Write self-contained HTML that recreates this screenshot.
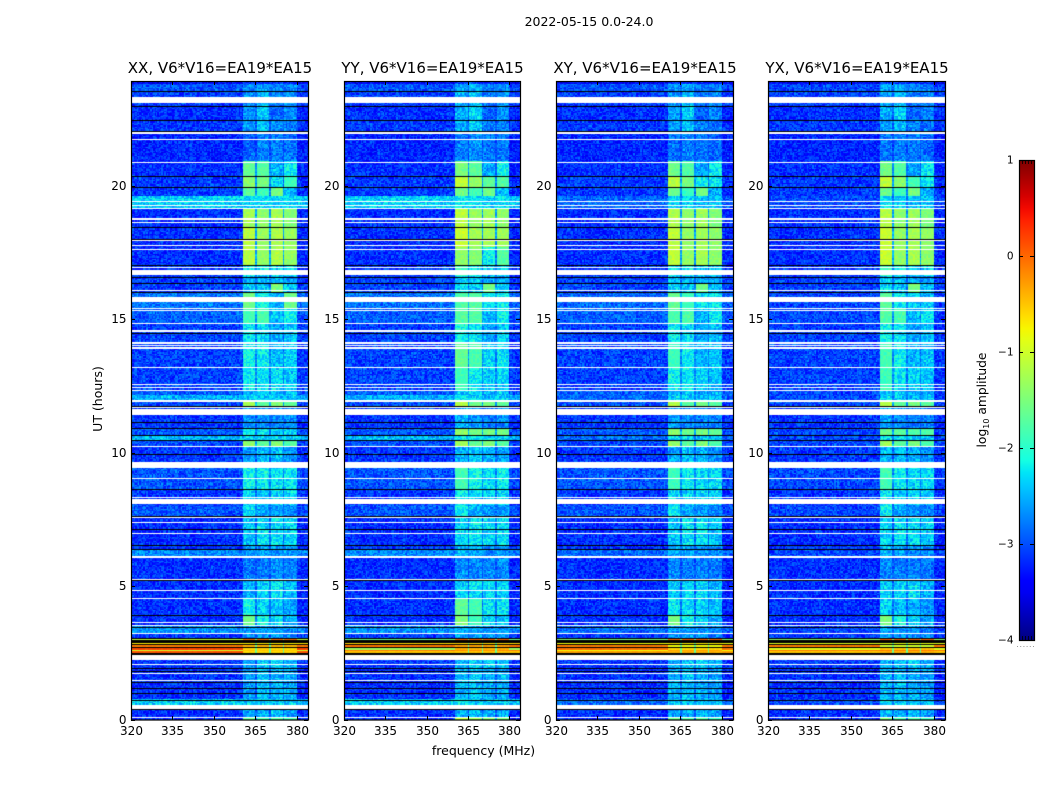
<!DOCTYPE html>
<html lang="en">
<head>
<meta charset="utf-8">
<title>2022-05-15 0.0-24.0</title>
<style>
html,body{margin:0;padding:0;background:#fff;}
#stage{position:relative;width:1050px;height:800px;overflow:hidden;background:#fff;}
canvas{position:absolute;display:block;}
svg{position:absolute;left:0;top:0;}
text{font-family:"DejaVu Sans","Liberation Sans",sans-serif;fill:#000;}
</style>
</head>
<body>
<div id="stage">
<svg id="chart" width="1050" height="800" viewBox="0 0 1050 800">
  <defs><linearGradient id="jetGradient" x1="0" y1="1" x2="0" y2="0"></linearGradient></defs>
  <text x="589" y="26" text-anchor="middle" font-size="12.5">2022-05-15 0.0-24.0</text>
  <text x="483.5" y="755" text-anchor="middle" font-size="12.5">frequency (MHz)</text>
  <text transform="translate(102,399) rotate(-90)" text-anchor="middle" font-size="12.5">UT (hours)</text>
  <text transform="translate(986,400) rotate(-90)" text-anchor="middle" font-size="12.3">log<tspan font-size="8" dy="3">10</tspan><tspan dy="-3"> amplitude</tspan></text>
</svg>
</div>
<script>
// ---- chart values ----
const panelTitles = ["XX, V6*V16=EA19*EA15", "YY, V6*V16=EA19*EA15", "XY, V6*V16=EA19*EA15", "YX, V6*V16=EA19*EA15"];
const freqTicks = [320, 335, 350, 365, 380];
const hourTicks = [0, 5, 10, 15, 20];
const colorTicks = [1, 0, -1, -2, -3, -4];

// sub-bands with interference, MHz
const bandStarts = [360.5, 365.5, 370.5, 375.5];
const bandEnds = [365, 370, 375, 380];

// start hour, end hour, background level, four sub-band levels (log10 amplitude)
const timeSegments = [
  [23.95,23.8,-3.3,-3.0,-2.9,-3.0,-3.0],
  [23.8,23.55,-2.85,-2.5,-2.35,-2.5,-2.55],
  [23.55,22.98,-2.95,-2.5,-2.3,-2.55,-2.5],
  [22.98,22.45,-3.05,-2.45,-2.2,-2.65,-2.5],
  [22.45,22.0,-3.0,-2.5,-2.25,-2.5,-2.6],
  [22.0,20.9,-3.1,-2.7,-2.55,-2.55,-2.65],
  [20.9,20.37,-3.05,-1.65,-1.75,-2.3,-2.0],
  [20.37,19.94,-3.0,-1.4,-1.55,-2.1,-1.9],
  [19.94,19.6,-3.0,-1.7,-1.9,-1.5,-2.3],
  [19.6,19.16,-2.25,-2.15,-2.15,-2.15,-2.15],
  [19.16,18.45,-3.05,-1.25,-1.4,-1.25,-1.45],
  [18.45,17.02,-3.05,-1.15,-1.35,-1.2,-1.35],
  [17.02,16.58,-3.0,-2.0,-2.0,-2.1,-2.1],
  [16.58,16.33,-2.95,-2.3,-2.3,-2.3,-2.4],
  [16.33,16.0,-2.95,-2.2,-2.25,-1.5,-2.2],
  [16.0,15.42,-2.7,-1.55,-1.95,-2.3,-1.6],
  [15.42,14.84,-2.8,-1.85,-1.8,-2.25,-2.0],
  [14.84,14.11,-2.95,-2.05,-2.1,-2.35,-2.2],
  [14.11,13.2,-2.95,-1.95,-2.0,-2.25,-2.2],
  [13.2,12.34,-2.95,-2.0,-2.05,-2.1,-2.2],
  [12.34,12.15,-2.8,-2.3,-2.2,-2.3,-2.3],
  [12.15,11.94,-2.4,-2.2,-2.2,-2.2,-2.2],
  [11.94,11.74,-2.9,-1.25,-1.7,-1.5,-1.7],
  [11.74,11.15,-3.0,-2.45,-2.5,-2.5,-2.5],
  [11.15,10.92,-3.0,-2.5,-2.5,-2.55,-2.55],
  [10.92,10.66,-2.85,-1.95,-2.1,-2.15,-2.15],
  [10.66,10.47,-2.35,-2.15,-2.1,-2.1,-2.2],
  [10.47,10.25,-2.9,-1.4,-1.7,-1.45,-1.75],
  [10.25,9.64,-3.0,-2.4,-2.25,-2.25,-2.45],
  [9.64,8.62,-2.85,-1.95,-2.0,-2.05,-2.05],
  [8.62,8.07,-3.0,-2.15,-2.2,-2.1,-2.15],
  [8.07,7.6,-2.85,-2.1,-2.35,-2.4,-2.5],
  [7.6,6.54,-3.05,-2.25,-2.1,-2.05,-2.15],
  [6.54,6.39,-3.0,-2.4,-2.4,-2.4,-2.4],
  [6.39,6.1,-2.6,-2.4,-2.4,-2.45,-2.45],
  [6.1,5.22,-3.05,-2.6,-2.6,-2.5,-2.55],
  [5.22,4.55,-3.05,-2.3,-2.15,-2.05,-2.25],
  [4.55,3.91,-3.05,-1.95,-2.15,-2.25,-2.4],
  [3.91,3.48,-3.05,-1.6,-1.95,-2.05,-2.3],
  [3.48,3.24,-2.55,-2.45,-2.4,-2.4,-2.5],
  [3.24,3.05,-3.0,-2.5,-2.4,-2.4,-2.5],
  [2.45,1.93,-3.0,-2.4,-2.2,-2.1,-2.3],
  [1.93,0.73,-3.05,-2.4,-2.25,-2.3,-2.35],
  [0.73,0.56,-2.25,-2.2,-2.2,-2.2,-2.2],
  [0.56,0.08,-3.05,-2.4,-2.35,-2.25,-2.4],
  [0.08,0,-3.05,-1.6,-1.8,-1.7,-1.8]
];

// per-panel replacements: panel index, start hour, end hour, four sub-band levels
const bandOverrides = [
  [1,20.37,19.94,-1.2,-1.4,-1.65,-1.8],
  [2,20.37,19.94,-1.2,-1.5,-1.9,-2.0],
  [3,20.37,19.94,-1.2,-1.4,-1.8,-2.0],
  [1,17.7,17.02,-1.5,-1.5,-1.9,-1.8],
  [1,16.0,15.42,-1.9,-1.8,-2.0,-2.0],
  [2,16.0,15.42,-1.7,-1.9,-2.0,-2.0],
  [3,16.0,15.42,-1.8,-2.0,-2.1,-2.2],
  [1,14.11,13.2,-1.75,-1.85,-2.1,-2.1],
  [1,10.92,10.66,-1.5,-1.6,-1.5,-1.6],
  [2,10.92,10.66,-1.5,-1.6,-1.5,-1.6],
  [3,10.92,10.66,-1.7,-1.7,-1.7,-1.7],
  [1,4.55,3.91,-1.8,-1.9,-2.0,-2.1],
  [2,4.55,3.91,-2.1,-2.1,-2.1,-2.2],
  [3,4.55,3.91,-2.25,-2.25,-2.3,-2.4],
  [1,0.08,0,-1.2,-1.3,-1.4,-1.5]
];

// bright calibrator stripes near 2.5-3 h
const stripeStarts = [3.03, 2.87, 2.78, 2.68, 2.60, 2.55];
const stripeEnds = [2.97, 2.83, 2.72, 2.60, 2.55, 2.48];
const stripeBaseXX = [-1.1,-0.7,-0.1,0.2,-1.0,0.1];
const stripeBandXX = [0,-0.7,-0.4,-0.6,-0.5,-0.6];
const stripeBaseYY = [-1.6,-0.6,-0.05,-1.3,-0.1,-0.5];
const stripeBandYY = [0.05,-0.6,-0.3,-0.4,-0.2,-0.5];
const stripeBaseXY = [-1.5,-0.8,-0.1,-0.05,-0.8,-0.3];
const stripeBandXY = [0.05,-0.7,-0.8,-0.6,-0.3,-0.4];
const stripeBaseYX = [-1.4,-0.9,-0.1,-0.9,-0.1,-0.5];
const stripeBandYX = [0.05,-0.85,-1.0,-0.5,-0.1,-0.4];
const stripeBackdropStart = 3.05;
const stripeBackdropEnd = 2.42;

// flagged (blank) hour ranges, shown white
const whiteStarts = [23.33,21.99,21.75,20.89,19.43,19.28,19.17,18.77,18.65,17.97,17.78,17.63,16.96,16.84,16.10,15.82,15.43,15.35,14.85,14.57,14.12,14.04,13.94,13.21,12.56,12.46,12.35,11.95,11.71,11.63,10.26,9.64,9.04,8.34,8.26,7.61,7.41,7.00,6.11,5.28,4.86,4.56,3.66,3.55,3.25,2.42,2.09,1.75,1.49,0.56,0.09];
const whiteEnds = [23.10,21.94,21.70,20.84,19.38,19.23,19.12,18.72,18.60,17.92,17.73,17.58,16.91,16.65,16.05,15.64,15.38,15.30,14.80,14.52,14.07,13.99,13.89,13.16,12.51,12.41,12.30,11.90,11.66,11.40,10.21,9.42,8.99,8.29,8.07,7.56,7.36,6.95,6.06,5.23,4.81,4.51,3.61,3.50,3.20,2.23,2.04,1.70,1.44,0.41,0.04];
// hours drawn as solid black lines
const blackHours = [23.55,22.98,22.45,22.04,20.37,19.94,18.45,18.01,17.02,16.58,16.33,16.02,14.46,11.74,11.15,10.92,10.66,10.47,9.94,8.62,7.63,7.13,6.54,6.39,5.22,3.91,3.48,1.93,1.83,1.40,1.18,0.98,0.73,0.39];

// per-panel adjustments: sub-band offset and ceiling on the background level
const bandOffsetXX = [0,0,0,0];
const bandOffsetYY = [0.12,0.05,-0.05,0.05];
const bandOffsetXY = [0.05,0,-0.05,-0.05];
const bandOffsetYX = [0.1,0,-0.05,-0.05];
const backgroundCeiling = [0, 0, -2.75, -2.92];
const backgroundShift = -0.12;
const quietBandShift = -0.2;

// hand-typed speckle offsets used as image grain
const grainOffsets = [0.12,-0.21,0.05,0.31,-0.08,-0.27,0.18,-0.03,0.24,-0.15,0.02,0.36,-0.19,0.09,-0.31,0.15,-0.06,0.27,-0.12,0.01,-0.24,0.21,0.07,-0.35,0.13,-0.1,0.29,-0.17,0.04,0.19,-0.28,0.1,-0.02,0.33,-0.22,0.16,-0.07,0.25,-0.14,0.03,-0.3,0.2,0.08,-0.18,0.4,-0.11,-0.25,0.14,0.0,0.23,-0.33,0.11,-0.05,0.28,-0.16,0.06,-0.2,0.17,-0.09,0.3,-0.26,0.22,-0.04,0.1,-0.13,0.26,-0.23];

// ---- layout ----
const frameLefts = [131, 344, 556, 768];
const frameRights = [308, 520, 733, 945];
const frameTop = 81;
const frameBottom = 720;
const freqMin = 320;
const freqMax = 384;
const channelWidth = 0.5;
const rowHours = 0.05;
const svgNS = "http://www.w3.org/2000/svg";
const chart = document.getElementById("chart");
const stage = document.getElementById("stage");

function xScale(panel, f) {
  return frameLefts[panel] + (f - freqMin) * (frameRights[panel] - frameLefts[panel]) / (freqMax - freqMin);
}
function yScale(h) {
  return 719.5 - 26.7 * h;
}
function jet(v) {
  const ramp = (x, pts) => {
    for (let i = 1; i < pts.length; i++) {
      if (x <= pts[i][0]) {
        return pts[i-1][1] + (pts[i][1] - pts[i-1][1]) * (x - pts[i-1][0]) / (pts[i][0] - pts[i-1][0]);
      }
    }
    return pts[pts.length-1][1];
  };
  const r = ramp(v, [[0,0],[0.35,0],[0.66,1],[0.89,1],[1,0.5]]);
  const g = ramp(v, [[0,0],[0.125,0],[0.375,1],[0.64,1],[0.91,0],[1,0]]);
  const b = ramp(v, [[0,0.5],[0.11,1],[0.34,1],[0.65,0],[1,0]]);
  return "rgb(" + Math.round(r*255) + "," + Math.round(g*255) + "," + Math.round(b*255) + ")";
}
function colorOf(level) {
  const t = Math.max(0, Math.min(1, (level + 4) / 5));
  return jet(t);
}
function makeSvg(tag) {
  const el = document.createElementNS(svgNS, tag);
  chart.appendChild(el);
  return el;
}
function segmentAt(h) {
  for (const s of timeSegments) {
    if (h <= s[0] && h > s[1]) return s;
  }
  return null;
}
function bandIndex(f) {
  for (let i = 0; i < bandStarts.length; i++) {
    if (f >= bandStarts[i] && f < bandEnds[i]) return i;
  }
  return -1;
}
function grainAt(panel, row, col) {
  let n = Math.imul(row + 1, 73856093) ^ Math.imul(col + 1, 19349663) ^ Math.imul(panel + 1, 83492791);
  n = Math.imul(n ^ (n >>> 13), 1274126177);
  n = (n ^ (n >>> 16)) >>> 0;
  return grainOffsets[n % grainOffsets.length];
}
function bandLevelsFor(panel, h, seg) {
  for (const o of bandOverrides) {
    if (o[0] === panel && h <= o[1] && h > o[2]) return o.slice(3);
  }
  return seg.slice(3);
}

const bandOffsets = [bandOffsetXX, bandOffsetYY, bandOffsetXY, bandOffsetYX];
const stripeBases = [stripeBaseXX, stripeBaseYY, stripeBaseXY, stripeBaseYX];
const stripeBands = [stripeBandXX, stripeBandYY, stripeBandXY, stripeBandYX];

function cellLevel(panel, h, f, row, col) {
  const seg = segmentAt(h);
  if (!seg) return null;
  const grain = grainAt(panel, row, col);
  const band = bandIndex(f);
  const inSpan = f >= bandStarts[0] && f < bandEnds[bandEnds.length-1];
  const levels = bandLevelsFor(panel, h, seg);
  let base = seg[2];
  if (backgroundCeiling[panel] < 0) base = Math.min(base, backgroundCeiling[panel]);
  base += backgroundShift;
  if (band >= 0) {
    let v = levels[band] + bandOffsets[panel][band];
    if (v < -1.9) v += quietBandShift;
    return v + grain * (v < -1.9 ? 0.95 : 0.45);
  }
  if (inSpan) {
    const nearest = Math.min(3, Math.floor((f - bandStarts[0]) / 5));
    return base + (levels[nearest] - base) * 0.3 + grain * 0.7;
  }
  return base - (f >= 380 ? 0.05 : 0) + grain;
}

// ---- heatmaps ----
frameLefts.forEach(function (left, panel) {
  const right = frameRights[panel];
  const canvas = document.createElement("canvas");
  canvas.width = right - left;
  canvas.height = frameBottom - frameTop;
  canvas.style.left = left + "px";
  canvas.style.top = frameTop + "px";
  
  
  stage.insertBefore(canvas, chart);
  const ctx = canvas.getContext("2d");
  const width = right - left;
  const rows = Math.round(24 / rowHours);
  const cols = Math.round((freqMax - freqMin) / channelWidth);

  function columnEdges(c) {
    return [
      Math.round(xScale(panel, freqMin + c * channelWidth)) - left,
      Math.round(xScale(panel, freqMin + (c + 1) * channelWidth)) - left
    ];
  }

  for (let r = 0; r < rows; r++) {
    const h = (r + 0.5) * rowHours;
    const y0 = Math.round(yScale(r * rowHours + rowHours)) - frameTop;
    const y1 = Math.round(yScale(r * rowHours)) - frameTop;
    if (y1 <= y0) continue;
    for (let c = 0; c < cols; c++) {
      const f = freqMin + (c + 0.5) * channelWidth;
      const edges = columnEdges(c);
      if (edges[1] <= edges[0]) continue;
      const level = cellLevel(panel, h, f, r, c);
      if (level === null) continue;
      ctx.fillStyle = colorOf(level);
      ctx.fillRect(edges[0], y0, edges[1] - edges[0], y1 - y0);
    }
  }

  // stripes sit on a black backdrop
  const backdropTop = Math.round(yScale(stripeBackdropStart)) - frameTop;
  const backdropBottom = Math.round(yScale(stripeBackdropEnd)) - frameTop;
  ctx.fillStyle = "#000";
  ctx.fillRect(0, backdropTop, width, backdropBottom - backdropTop);
  stripeStarts.forEach(function (start, i) {
    const y0 = Math.round(yScale(start)) - frameTop;
    const y1 = Math.round(yScale(stripeEnds[i])) - frameTop;
    for (let c = 0; c < cols; c++) {
      const f = freqMin + (c + 0.5) * channelWidth;
      const edges = columnEdges(c);
      if (edges[1] <= edges[0]) continue;
      const inSpan = f >= bandStarts[0] && f < bandEnds[bandEnds.length-1];
      let v = inSpan ? stripeBands[panel][i] : stripeBases[panel][i];
      if (inSpan && bandIndex(f) < 0) v = Math.min(v, -1.6);
      ctx.fillStyle = colorOf(v + grainAt(panel, i, c) * 0.15);
      ctx.fillRect(edges[0], y0, edges[1] - edges[0], Math.max(1, y1 - y0));
    }
  });

  // flagged rows and black lines are exact overlays
  ctx.fillStyle = "#fff";
  whiteStarts.forEach(function (start, i) {
    const y0 = Math.round(yScale(start)) - frameTop;
    const y1 = Math.round(yScale(whiteEnds[i])) - frameTop;
    ctx.fillRect(0, y0, width, Math.max(1, y1 - y0));
  });
  ctx.fillStyle = "#000";
  blackHours.forEach(function (hour) {
    ctx.fillRect(0, Math.round(yScale(hour)) - frameTop, width, 1);
  });
});

// ---- axes ----
frameLefts.forEach(function (left, panel) {
  const right = frameRights[panel];
  const frame = makeSvg("rect");
  frame.setAttribute("x", left + 0.5);
  frame.setAttribute("y", frameTop + 0.5);
  frame.setAttribute("width", right - left);
  frame.setAttribute("height", frameBottom - frameTop - 0.5);
  frame.setAttribute("fill", "none");
  frame.setAttribute("stroke", "#000");
  frame.setAttribute("stroke-width", "1.2");
  
  

  const title = makeSvg("text");
  title.setAttribute("x", (left + right) / 2 + 0.5);
  title.setAttribute("y", 73);
  title.setAttribute("text-anchor", "middle");
  title.setAttribute("font-size", "15");
  
  
  title.textContent = panelTitles[panel];

  freqTicks.forEach(function (f) {
    const x = Math.round(xScale(panel, f)) + 0.5;
    [[frameBottom, frameBottom - 4], [frameTop, frameTop + 4]].forEach(function (p) {
      const tick = makeSvg("line");
      tick.setAttribute("x1", x);
      tick.setAttribute("x2", x);
      tick.setAttribute("y1", p[0]);
      tick.setAttribute("y2", p[1]);
      tick.setAttribute("stroke", "#000");
      
      
    });
    const label = makeSvg("text");
    label.setAttribute("x", x);
    label.setAttribute("y", 735);
    label.setAttribute("text-anchor", "middle");
    label.setAttribute("font-size", "12");
    
    
    label.textContent = f;
  });

  hourTicks.forEach(function (h) {
    const y = Math.round(yScale(h)) + 0.5;
    [[left, left + 4], [right, right - 4]].forEach(function (p) {
      const tick = makeSvg("line");
      tick.setAttribute("x1", p[0]);
      tick.setAttribute("x2", p[1]);
      tick.setAttribute("y1", y);
      tick.setAttribute("y2", y);
      tick.setAttribute("stroke", "#000");
      
      
    });
    const label = makeSvg("text");
    label.setAttribute("x", left - 4.5);
    label.setAttribute("y", y + 3.5);
    label.setAttribute("text-anchor", "end");
    label.setAttribute("font-size", "12");
    
    
    label.textContent = h;
  });
});

// ---- colour bar ----
const barLeft = 1019;
const barRight = 1034;
const barTop = 160;
const barBottom = 640;
function barY(v) {
  return barBottom - (v + 4) * (barBottom - barTop) / 5;
}
const gradient = document.getElementById("jetGradient");
for (let i = 0; i <= 40; i++) {
  const stop = document.createElementNS(svgNS, "stop");
  stop.setAttribute("offset", (i / 40 * 100) + "%");
  stop.setAttribute("stop-color", jet(i / 40));
  gradient.appendChild(stop);
}
const bar = makeSvg("rect");
bar.setAttribute("x", barLeft + 0.5);
bar.setAttribute("y", barTop + 0.5);
bar.setAttribute("width", barRight - barLeft);
bar.setAttribute("height", barBottom - barTop);
bar.setAttribute("fill", "url(#jetGradient)");
bar.setAttribute("stroke", "#000");
bar.setAttribute("stroke-width", "1.2");



colorTicks.forEach(function (v) {
  const y = Math.round(barY(v)) + 0.5;
  [[barLeft, barLeft + 4], [barRight, barRight - 4]].forEach(function (p) {
    const tick = makeSvg("line");
    tick.setAttribute("x1", p[0]);
    tick.setAttribute("x2", p[1]);
    tick.setAttribute("y1", y);
    tick.setAttribute("y2", y);
    tick.setAttribute("stroke", "#000");
    
    
  });
  const label = makeSvg("text");
  label.setAttribute("x", barLeft - 5.5);
  label.setAttribute("y", y + 3);
  label.setAttribute("text-anchor", "end");
  label.setAttribute("font-size", "10.5");
  
  
  label.textContent = v < 0 ? "\u2212" + Math.abs(v) : String(v);
});

[0, 1, 2, 3, 4, 5].forEach(function (i) {
  const x = barLeft + i * 3 + 0.5;
  [[barTop, barTop + 4], [barBottom, barBottom - 4]].forEach(function (p) {
    const tick = makeSvg("line");
    tick.setAttribute("x1", x);
    tick.setAttribute("x2", x);
    tick.setAttribute("y1", p[0]);
    tick.setAttribute("y2", p[1]);
    tick.setAttribute("stroke", "#000");
    tick.setAttribute("stroke-width", "0.8");
    
    
  });
  const dot = makeSvg("rect");
  dot.setAttribute("x", barLeft - 2 + i * 3.2);
  dot.setAttribute("y", 646);
  dot.setAttribute("width", 1);
  dot.setAttribute("height", 1);
  dot.setAttribute("fill", "#999");
  
  
});
</script>
</body>
</html>
